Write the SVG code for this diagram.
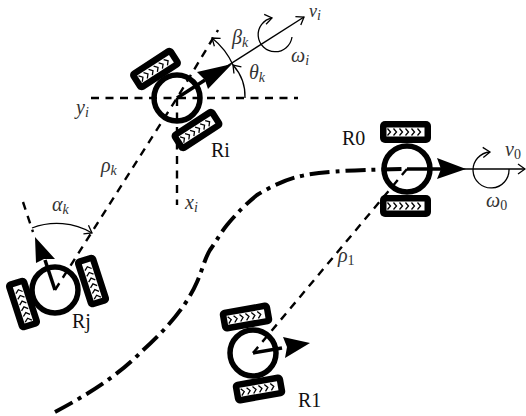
<svg xmlns="http://www.w3.org/2000/svg" xmlns:xlink="http://www.w3.org/1999/xlink" width="526" height="416" viewBox="0 0 526 416">
<style>
text{font-family:"Liberation Serif","Times New Roman",serif;font-size:20px;fill:#111}
.m{font-style:italic;font-size:20px;fill:#333}
.s{font-size:14px;font-style:italic}
.n{font-size:14px;font-style:normal}
.body{fill:none;stroke:#000;stroke-width:5.5}
.dash{fill:none;stroke:#000;stroke-width:2.4;stroke-dasharray:8 6.5}
.traj{fill:none;stroke:#000;stroke-width:4;stroke-dasharray:20 6 4 6}
.thick{fill:none;stroke:#000;stroke-width:3.5}
.thin{fill:none;stroke:#000;stroke-width:1.4}
.arc{fill:none;stroke:#000;stroke-width:1.3;marker-end:url(#open)}
</style>
<defs>
<marker id="open" markerUnits="userSpaceOnUse" markerWidth="14" markerHeight="14" refX="9" refY="6" orient="auto" overflow="visible">
<path d="M2 1L9 6L2 11" fill="none" stroke="#000" stroke-width="1.3"/>
</marker>
<g id="wheel">
<rect x="-25.500" y="-11" width="51" height="22" rx="5" fill="#000"/>
<rect x="-19" y="-4.500" width="38" height="9" fill="#fff"/>
<path d="M-18-3.500L-15 0L-18 3.500M-12-3.500L-9 0L-12 3.500M-6-3.500L-3 0L-6 3.500M0-3.500L3 0L0 3.500M6-3.500L9 0L6 3.500M12-3.500L15 0L12 3.500" fill="none" stroke="#000" stroke-width="1.300"/>
</g>
</defs>
<g id="connectors">
<path class="traj" d="M55 412C85 396 115 378 140 353C160 335 185 310 197 282C203 268 205 258 210 250C217 240 222 231 227 225C237 213 247 203 257 195C270 187 285 180 297 177C315 172 345 170 405 169"/>
<path class="dash" d="M91 98H298"/>
<path class="dash" d="M177 98V205"/>
<path class="dash" d="M55 290L177 98L218 30"/>
<path class="dash" d="M253 353L407 169"/>
<path class="dash" d="M23 202L33 232"/>
<path class="thin" d="M177 98L304 17" marker-end="url(#open)"/>
<path class="thin" d="M407 169H525" marker-end="url(#open)"/>
<path class="arc" d="M245 98A47 47 0 0 0 233 65"/>
<path class="arc" d="M233 65A72 72 0 0 0 212 38"/>
<path class="arc" d="M292 37A17 17 0 1 1 272 18"/>
<path class="arc" d="M509 169A18 18 0 1 1 490 152"/>
<path class="arc" d="M32 228A70 70 0 0 1 92 233"/>
</g>
<g id="Ri">
<use xlink:href="#wheel" href="#wheel" transform="translate(155.500 69) rotate(-33)"/>
<use xlink:href="#wheel" href="#wheel" transform="translate(197 130) rotate(-33)"/>
<circle class="body" cx="177" cy="98" r="23"/>
<path class="thick" d="M177 98L205 80"/>
<path d="M232 64L208 89L205 80L197 72Z"/>
</g>
<g id="R0">
<use xlink:href="#wheel" href="#wheel" transform="translate(405.500 132)"/>
<use xlink:href="#wheel" href="#wheel" transform="translate(405.500 206)"/>
<circle class="body" cx="407" cy="169" r="23"/>
<path class="thick" d="M407 169H442"/>
<path d="M466 169L437 179L441 169L437 158Z"/>
</g>
<g id="Rj">
<use xlink:href="#wheel" href="#wheel" transform="translate(92 281) rotate(-108)"/>
<use xlink:href="#wheel" href="#wheel" transform="translate(23 304) rotate(-108)"/>
<circle class="body" cx="55" cy="290" r="23"/>
<path class="thick" d="M55 290L45 260"/>
<path d="M35 237L55 259L44 259L36 263Z"/>
</g>
<g id="R1">
<use xlink:href="#wheel" href="#wheel" transform="translate(246 317) rotate(-10)"/>
<use xlink:href="#wheel" href="#wheel" transform="translate(259 389) rotate(-10)"/>
<circle class="body" cx="253" cy="353" r="23"/>
<path class="thick" d="M253 353L282 348"/>
<path d="M310 343L285 358L287 347L283 337Z"/>
</g>
<g id="labels">
<text x="211" y="157">Ri</text>
<text x="342" y="145">R0</text>
<text x="72" y="328">Rj</text>
<text x="298" y="407">R1</text>
<text class="m" x="309" y="17" style="font-size:18px">v<tspan class="s" dy="3">i</tspan></text>
<text class="m" x="291" y="62">ω<tspan class="s" dy="3">i</tspan></text>
<text class="m" x="232" y="44">β<tspan class="s" dy="3">k</tspan></text>
<text class="m" x="249" y="79">θ<tspan class="s" dy="3">k</tspan></text>
<text class="m" x="76" y="114">y<tspan class="s" dy="3">i</tspan></text>
<text class="m" x="185" y="209">x<tspan class="s" dy="3">i</tspan></text>
<text class="m" x="101" y="172">ρ<tspan class="s" dy="3">k</tspan></text>
<text class="m" x="52" y="211">α<tspan class="s" dy="3">k</tspan></text>
<text class="m" x="338" y="262">ρ<tspan class="n" dy="3">1</tspan></text>
<text class="m" x="505" y="156">v<tspan class="n" dy="3">0</tspan></text>
<text class="m" x="486" y="207">ω<tspan class="n" dy="3">0</tspan></text>
</g>
</svg>
